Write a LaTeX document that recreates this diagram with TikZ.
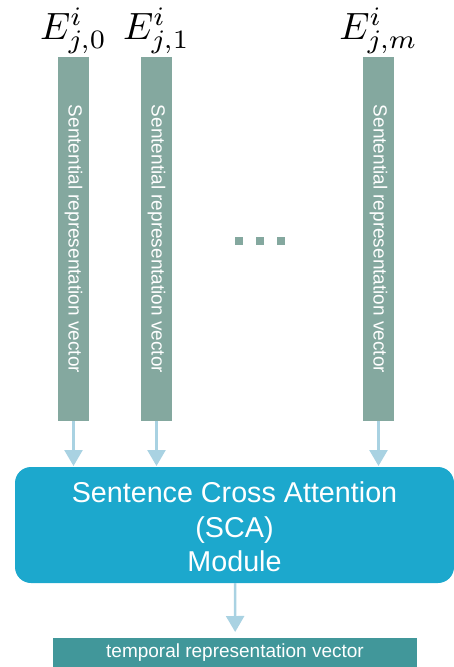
\documentclass[tikz,border=0pt]{standalone}
\usepackage{fontspec}
\setmainfont{Liberation Sans}
\usetikzlibrary{arrows.meta}
\definecolor{barcol}{HTML}{84A89F}
\definecolor{boxcol}{HTML}{1CA8CD}
\definecolor{arrcol}{HTML}{A9D2E2}
\definecolor{outcol}{HTML}{41979A}
\tikzset{
  vecbar/.style={fill=barcol, draw=none, minimum width=31pt, minimum height=364pt, inner sep=0pt},
  bartext/.style={text=white, rotate=-90, font=\fontsize{19}{20}\selectfont},
  elabel/.style={anchor=base, inner sep=0pt, scale=3.8, font=\fontsize{10}{12}\selectfont},
  flow/.style={draw=arrcol, line width=2.5pt, -{Triangle[width=18pt,length=16pt]}},
  dotsq/.style={fill=barcol, draw=none, minimum size=8pt, inner sep=0pt},
}
\begin{document}
\begin{tikzpicture}[x=1pt,y=-1pt]
\useasboundingbox (0,0) rectangle (454,667);
% bars
\node[vecbar] (b0) at (73.5,239) {};
\node[vecbar] (b1) at (156.5,239) {};
\node[vecbar] (bm) at (378.5,239) {};
\node[bartext] at (b0) {Sentential representation vector};
\node[bartext] at (b1) {Sentential representation vector};
\node[bartext] at (bm) {Sentential representation vector};
% labels
\node[elabel] (l0) at (73.5,39) {$E^{i}_{j,0}$};
\node[elabel] (l1) at (156.5,39) {$E^{i}_{j,1}$};
\node[elabel] (lm) at (378.5,39) {$E^{i}_{j,m}$};
% dots
\node[dotsq] (d1) at (239,241) {};
\node[dotsq] (d2) at (260,241) {};
\node[dotsq] (d3) at (281,241) {};
% module
\fill[boxcol, rounded corners=16pt] (15,467) rectangle (454,583);
\node[text=white, align=center, font=\fontsize{28.7}{34.5}\selectfont] (scat) at (234.5,527) {Sentence Cross Attention\\(SCA)\\Module};
\coordinate (bt0) at (73.5,466);
\coordinate (bt1) at (156.5,466);
\coordinate (btm) at (378.5,466);
\draw[flow] (b0.south) -- (bt0);
\draw[flow] (b1.south) -- (bt1);
\draw[flow] (bm.south) -- (btm);
% output
\node[fill=outcol, minimum width=364pt, minimum height=32pt, inner sep=0pt, anchor=north west] (out) at (53,638) {};
\node[text=white, font=\fontsize{19}{20}\selectfont] at (235,653) {temporal representation vector};
\coordinate (mb) at (235,583);
\draw[flow, shorten >=6pt] (mb) -- (out.north);
\end{tikzpicture}
\end{document}
